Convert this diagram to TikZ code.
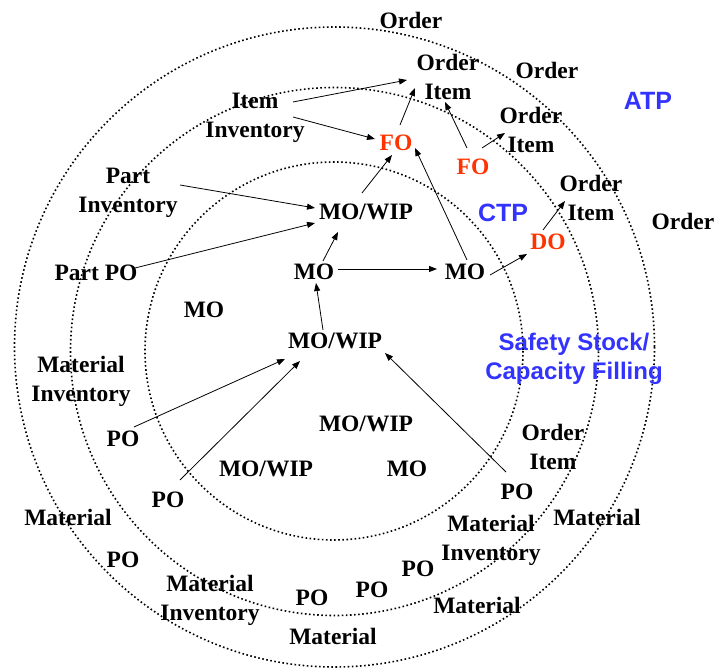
\documentclass[tikz,border=0pt]{standalone}
\usepackage{fontspec}
\setmainfont{Liberation Serif}
\setsansfont{Liberation Sans}
\usetikzlibrary{arrows.meta}
\definecolor{orderred}{RGB}{255,51,0}
\definecolor{zoneblue}{RGB}{51,51,255}
\begin{document}
\begin{tikzpicture}[x=1pt,y=-1pt,
  lbl/.style={font=\fontsize{23.5}{29}\selectfont\bfseries, align=center, inner sep=0pt},
  redlbl/.style={lbl, text=orderred},
  zone/.style={font=\fontsize{25}{29}\selectfont\sffamily\bfseries, text=zoneblue, align=center, inner sep=0pt},
  ring/.style={line width=1.6pt, dash pattern=on 1.6pt off 2.5pt},
  arr/.style={line width=0.8pt, -{Triangle[length=8pt,width=6pt]}}]
\useasboundingbox (0,0) rectangle (716,668);

% planning horizons
\draw[ring] (334,351) circle[radius=189];
\draw[ring] (334.5,351.5) circle[radius=264];
\draw[ring] (334.5,347) circle[radius=320];

% zone names
\node[zone] (atp) at (648,101) {ATP};
\node[zone] (ctp) at (503,213) {CTP};
\node[zone, font=\fontsize{24}{29}\selectfont\sffamily\bfseries] (safety) at (574,359) {Safety Stock/\\Capacity Filling};

% orders
\node[lbl] (oTop) at (411,20) {Order};
\node[lbl] (oi1) at (448,77) {Order\\Item};
\node[lbl] (o2) at (547,70) {Order};
\node[lbl] (oi2) at (531,130) {Order\\Item};
\node[lbl] (oi3) at (591,198) {Order\\Item};
\node[lbl] (o3) at (683,221) {Order};
\node[lbl] (oi4) at (553,447) {Order\\Item};

% inventories
\node[lbl] (itemInv) at (255,118) {Item\\Inventory};
\node[lbl] (partInv) at (128,193) {Part\\Inventory};
\node[lbl] (matInv1) at (81,381) {Material\\Inventory};
\node[lbl] (matInv2) at (491,540) {Material\\Inventory};
\node[lbl] (matInv3) at (210,600) {Material\\Inventory};

% fulfilment / delivery orders
\node[redlbl] (fo1) at (396,143) {FO};
\node[redlbl] (fo2) at (473,167) {FO};
\node[redlbl] (do) at (548,242) {DO};

% manufacturing orders
\node[lbl] (mowip1) at (366,212) {MO/WIP};
\node[lbl] (mo1) at (314,272) {MO};
\node[lbl] (mo2) at (465,272) {MO};
\node[lbl] (mo3) at (204,310) {MO};
\node[lbl] (mowip2) at (335,341) {MO/WIP};
\node[lbl] (mowip3) at (366,424) {MO/WIP};
\node[lbl] (mowip4) at (266,469) {MO/WIP};
\node[lbl] (mo4) at (407,469) {MO};

% purchase orders
\node[lbl] (partPO) at (96,273) {Part PO};
\node[lbl] (po1) at (123,439) {PO};
\node[lbl] (po2) at (517,492) {PO};
\node[lbl] (po3) at (168,500) {PO};
\node[lbl] (po4) at (123,560) {PO};
\node[lbl] (po5) at (418,569) {PO};
\node[lbl] (po6) at (372,590) {PO};
\node[lbl] (po7) at (312,598) {PO};

% materials
\node[lbl] (mat1) at (68,517) {Material};
\node[lbl] (mat2) at (597,517) {Material};
\node[lbl] (mat3) at (477,605) {Material};
\node[lbl] (mat4) at (333,636) {Material};

% pegging arrows
\draw[arr] ([shift={(38,-16)}]itemInv.center) -- ([shift={(-41,3)}]oi1.center);
\draw[arr] ([shift={(38,-1)}]itemInv.center) -- ([shift={(-21,-4)}]fo1.center);
\draw[arr] ([shift={(4,-18)}]fo1.center) -- ([shift={(-33,11)}]oi1.center);
\draw[arr] ([shift={(-4,-19)}]mowip1.center) -- ([shift={(-4,12)}]fo1.center);
\draw[arr] ([shift={(2,-12)}]mo2.center) -- ([shift={(19,5)}]fo1.center);
\draw[arr] ([shift={(-6,-19)}]fo2.center) -- ([shift={(-3,25)}]oi1.center);
\draw[arr] ([shift={(9,-19)}]fo2.center) -- ([shift={(-26,3)}]oi2.center);
\draw[arr] ([shift={(-5,-12)}]do.center) -- ([shift={(-26,3)}]oi3.center);
\draw[arr] ([shift={(25,3)}]mo2.center) -- ([shift={(-21,12)}]do.center);
\draw[arr] ([shift={(24,-3)}]mo1.center) -- ([shift={(-28,-3)}]mo2.center);
\draw[arr] ([shift={(9,-11)}]mo1.center) -- ([shift={(-28,20)}]mowip1.center);
\draw[arr] ([shift={(52,-8)}]partInv.center) -- ([shift={(-51,-4)}]mowip1.center);
\draw[arr] ([shift={(39,-5)}]partPO.center) -- ([shift={(-51,11)}]mowip1.center);
\draw[arr] ([shift={(-12,-11)}]mowip2.center) -- ([shift={(2,11)}]mo1.center);
\draw[arr] ([shift={(11,-12)}]po1.center) -- ([shift={(-50,18)}]mowip2.center);
\draw[arr] ([shift={(12,-20)}]po3.center) -- ([shift={(-35,20)}]mowip2.center);
\draw[arr] ([shift={(-11,-20)}]po2.center) -- ([shift={(50,12)}]mowip2.center);
\end{tikzpicture}
\end{document}
